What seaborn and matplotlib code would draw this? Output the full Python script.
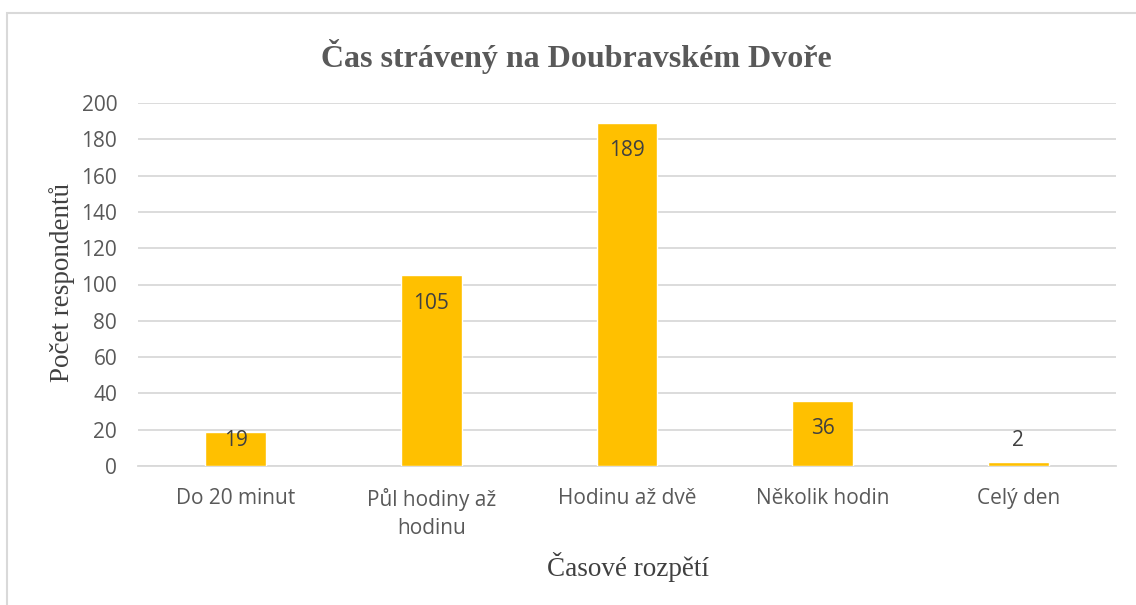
import matplotlib
matplotlib.use("Agg")
import matplotlib.pyplot as plt
import seaborn as sns
import pandas as pd
from matplotlib.patches import Rectangle

# data
categories = ["Do 20 minut", "Půl hodiny až\nhodinu", "Hodinu až dvě", "Několik hodin", "Celý den"]
counts = [19, 105, 189, 36, 2]
y_ticks = [0, 20, 40, 60, 80, 100, 120, 140, 160, 180, 200]

df = pd.DataFrame({"kategorie": categories, "pocet": counts})

sns.set_theme(style="white")
plt.rcParams["font.family"] = ["Open Sans", "DejaVu Sans"]

fig = plt.figure(figsize=(11.36, 6.05), dpi=100)
ax_h = (466 - 103) / 605
ax = fig.add_axes([138 / 1136, 1 - 466 / 605, (1116 - 138) / 1136, ax_h])

sns.barplot(data=df, x="kategorie", y="pocet", color="#FFC000", width=0.31,
            saturation=1, ax=ax, zorder=3)

ax.set_ylim(0, 200)
ax.set_yticks(y_ticks)
ax.set_xlim(-0.5, len(categories) - 0.5)
ax.grid(axis="y", color="#D9D9D9", linewidth=1.3, zorder=0)
for s in ["top", "right", "left"]:
    ax.spines[s].set_visible(False)
ax.spines["bottom"].set_color("#D9D9D9")
ax.spines["bottom"].set_linewidth(1.3)
ax.tick_params(axis="both", length=0, labelsize=15, labelcolor="#595959")
ax.tick_params(axis="x", pad=16)
ax.tick_params(axis="y", pad=15)
for lab in ax.get_xticklabels():
    lab.set_linespacing(1.4)
ax.set_xlabel("")
ax.set_ylabel("")

# value labels (inside end, small bars above)
ax_pts = ax_h * 6.05 * 72
for i, v in enumerate(counts):
    bar_pts = v / 200 * ax_pts
    if v <= 10:
        off = 16
    elif bar_pts > 35:
        off = -20
    else:
        off = -0.26 * bar_pts
    ax.annotate(str(v), (i, v), xytext=(0, off), textcoords="offset points",
                ha="center", va="center", fontsize=15, color="#404040", zorder=4)

serif = ["Liberation Serif", "DejaVu Serif"]
fig.text(576 / 1136, 1 - 57 / 605, "Čas strávený na Doubravském Dvoře", ha="center", va="center",
         fontsize=23, fontweight="bold", color="#595959", family=serif)
fig.text(62 / 1136, 1 - 283 / 605, "Počet respondentů", ha="center", va="center", rotation=90,
         fontsize=19.5, color="#404040", family=serif)
fig.text(628 / 1136, 1 - 567 / 605, "Časové rozpětí", ha="center", va="center",
         fontsize=19.5, color="#404040", family=serif)

# chart frame
fig.patches.append(Rectangle((7 / 1136, -0.1), 1.2, 1 - 13 / 605 + 0.1, transform=fig.transFigure,
                             fill=False, edgecolor="#D9D9D9", linewidth=1.5, zorder=0))

fig.savefig("out.png", dpi=100)
